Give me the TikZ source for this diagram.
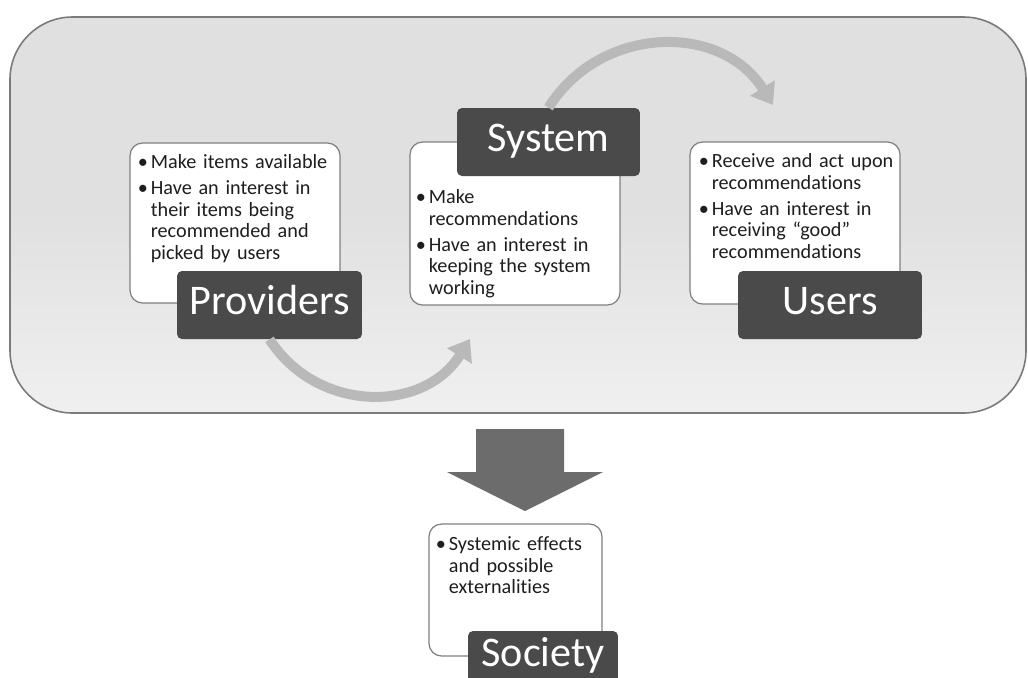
\documentclass[tikz,border=0pt]{standalone}
\usepackage{fontspec}
\setmainfont{Carlito}[Ligatures=NoCommon]
\usepackage{tikz}
\usetikzlibrary{arrows.meta, positioning, calc}
\definecolor{framedraw}{HTML}{7A7A7A}
\definecolor{tagfill}{HTML}{4A4A4A}
\definecolor{curvecol}{HTML}{B9B9B9}
\definecolor{bigarrow}{HTML}{6C6C6C}
\definecolor{listdraw}{HTML}{808080}
\definecolor{listtext}{HTML}{1E1E1E}
\newcommand{\bpt}[1]{\par\hangindent=0.65em\hangafter=1\noindent\makebox[0.65em][l]{\textbullet}#1\par}
\tikzset{
  frame/.style={draw=framedraw, line width=0.9pt, rounded corners=1.25cm, top color=black!12, bottom color=black!6, middle color=black!12},
  listbox/.style={rectangle, draw=listdraw, line width=0.7pt, fill=white, rounded corners=0.25cm, inner sep=0pt},
  listtxt/.style={anchor=north west, inner sep=0pt, text width=4cm, align=left, text=listtext, font=\fontsize{11.5}{12.3}\selectfont\setlength{\parskip}{2.5pt}\raggedright},
  tag/.style={rectangle, fill=tagfill, rounded corners=0.1cm, text=white, font=\fontsize{24}{28}\selectfont, inner sep=0pt, text height=16pt, text depth=5pt},
  curvearrow/.style={line width=0.2cm, draw=curvecol, -{Triangle[length=0.4cm, width=0.56cm]}},
}

\begin{document}
\begin{tikzpicture}[x=0.02cm, y=-0.02cm]
  \useasboundingbox (0,0) rectangle (1028,677);
  \clip (0,0) rectangle (1028,677);
  % stakeholders
  \path[frame] (10,17) rectangle (1026,413);
  \node[listbox, minimum width=4.2cm, minimum height=3.2cm] (provbox) at (235,223) {};
  \node[listbox, minimum width=4.2cm, minimum height=3.26cm] (sysbox) at (515,223.5) {};
  \node[listbox, minimum width=4.2cm, minimum height=3.24cm] (userbox) at (795,223) {};
  \node[listtxt] (provlist) at ([xshift=0.16cm, yshift=0cm]provbox.north west)
    {\bpt{Make items available}\bpt{Have an interest in\newline their items being\newline recommended and\newline picked by users}};
  \node[listtxt] (syslist) at ([xshift=0.12cm, yshift=-0.72cm]sysbox.north west)
    {\bpt{Make\newline recommendations}\bpt{Have an interest in\newline keeping the system\newline working}};
  \node[listtxt] (userlist) at ([xshift=0.18cm, yshift=0cm]userbox.north west)
    {\bpt{Receive and act upon\newline recommendations}\bpt{Have an interest in\newline receiving “good”\newline recommendations}};
  \node[tag, minimum width=3.7cm, minimum height=1.36cm] (provtag) at (269.5,305) {Providers};
  \node[tag, minimum width=3.66cm, minimum height=1.36cm] (systag) at (548.5,142) {System};
  \node[tag, minimum width=3.68cm, minimum height=1.36cm] (usertag) at (830,305) {Users};
  \coordinate (systip) at (470,339);
  \coordinate (usertip) at (773,105);
  \draw[curvearrow] (provtag.south) .. controls (317,413) and (423.5,413.5) .. (systip);
  \draw[curvearrow] (systag.north) .. controls (600,25) and (721,22) .. (usertip);
  % impact
  \fill[bigarrow] (476,429) -- (564,429) -- (564,472) -- (603,472) -- (525,511) -- (447,472) -- (476,472) -- cycle;
  \node[listbox, minimum width=3.46cm, minimum height=2.64cm] (socbox) at (515.5,590) {};
  \node[listtxt] (soclist) at ([xshift=0.14cm, yshift=-0.02cm]socbox.north west)
    {\bpt{Systemic effects\newline and possible\newline externalities}};
  \node[tag, minimum width=3cm, minimum height=1.04cm] (soctag) at (543,657) {Society};
\end{tikzpicture}
\end{document}
